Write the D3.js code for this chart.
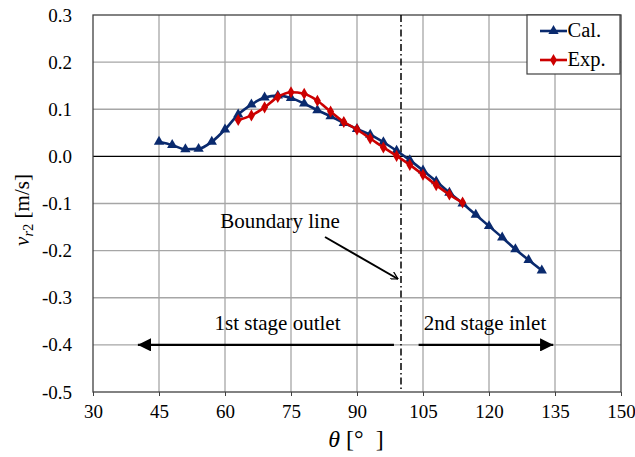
<!DOCTYPE html>
<html><head><meta charset="utf-8">
<script src="https://cdn.jsdelivr.net/npm/d3@7"></script>
<style>body{margin:0;background:#fff}svg{display:block}</style>
</head><body>
<svg id="c" width="635" height="457" font-family="'Liberation Serif', 'Times New Roman', Times, serif"></svg>
<script>
const calTheta = [45,48,51,54,57,60,63,66,69,72,75,78,81,84,87,90,93,96,99,102,105,108,111,114,117,120,123,126,129,132];
const calV = [0.031,0.024,0.015,0.016,0.031,0.057,0.089,0.110,0.125,0.129,0.124,0.112,0.098,0.085,0.071,0.058,0.046,0.030,0.012,-0.008,-0.030,-0.053,-0.077,-0.100,-0.124,-0.148,-0.172,-0.197,-0.220,-0.242];
const expTheta = [63,66,69,72,75,78,81,84,87,90,93,96,99,102,105,108,111,114];
const expV = [0.077,0.087,0.104,0.126,0.136,0.133,0.118,0.095,0.073,0.057,0.038,0.019,0.001,-0.018,-0.039,-0.061,-0.081,-0.098];
const xTicks = [30,45,60,75,90,105,120,135,150];
const yTicks = [0.3,0.2,0.1,0.0,-0.1,-0.2,-0.3,-0.4,-0.5];
const boundaryTheta = 100;
const seriesNames = ["Cal.","Exp."];

const FF = "'Liberation Serif', 'Times New Roman', Times, serif";
const svg = d3.select("#c");
const L=93,R=621,T=15,B=392;
const x = d3.scaleLinear().domain([30,150]).range([L,R]);
const y = d3.scaleLinear().domain([-0.5,0.3]).range([B,T]);
const navy="#0a2a6e", red="#cc0000";

// grid
svg.append("g").selectAll("line").data(xTicks.slice(1,-1)).join("line")
  .attr("x1",d=>x(d)).attr("x2",d=>x(d)).attr("y1",T).attr("y2",B)
  .attr("stroke","#a6a6a6").attr("stroke-width",1.3);
svg.append("g").selectAll("line").data(yTicks.filter(d=>d!==0.3&&d!==-0.5&&Math.abs(d)>1e-9)).join("line")
  .attr("x1",L).attr("x2",R).attr("y1",d=>y(d)).attr("y2",d=>y(d))
  .attr("stroke","#a6a6a6").attr("stroke-width",1.3);
svg.append("line").attr("x1",L).attr("x2",R).attr("y1",y(0)).attr("y2",y(0)).attr("stroke","#000").attr("stroke-width",1.2);

// axes
const xAxis = d3.axisBottom(x).tickValues(xTicks).tickSize(4).tickFormat(d3.format("d"));
const gx = svg.append("g").attr("transform",`translate(0,${B})`).call(xAxis);
gx.attr("font-family",FF);
gx.select(".domain").remove();
gx.selectAll("line").attr("stroke","#404040");
gx.selectAll("text").attr("font-size",19).attr("fill","#000").attr("y",26).attr("dy",0);
const f1 = d3.format(".1f");
const yAxis = d3.axisLeft(y).tickValues(yTicks).tickSize(0).tickPadding(21).tickFormat(d=>f1(d).replace("\u2212","-"));
const gy = svg.append("g").attr("transform",`translate(${L},0)`).call(yAxis);
gy.attr("font-family",FF);
gy.select(".domain").remove();
gy.selectAll("text").attr("font-size",19).attr("fill","#000");
svg.append("rect").attr("x",L).attr("y",T).attr("width",R-L).attr("height",B-T)
  .attr("fill","none").attr("stroke","#404040").attr("stroke-width",1.3);

// boundary line
svg.append("line").attr("x1",x(boundaryTheta)).attr("x2",x(boundaryTheta)).attr("y1",T).attr("y2",B)
  .attr("stroke","#000").attr("stroke-width",1.5).attr("stroke-dasharray","7,3,1.5,3");

// series
const line = d3.line().curve(d3.curveMonotoneX);
const calPts = calTheta.map((t,i)=>[x(t),y(calV[i])]);
const expPts = expTheta.map((t,i)=>[x(t),y(expV[i])]);
svg.append("path").attr("d",line(calPts)).attr("fill","none").attr("stroke",navy).attr("stroke-width",2.6);
const tri = d3.symbol().type(d3.symbolTriangle).size(46);
svg.append("g").selectAll("path").data(calPts).join("path")
  .attr("transform",d=>`translate(${d[0]},${d[1]})`).attr("d",tri).attr("fill",navy);
svg.append("path").attr("d",line(expPts)).attr("fill","none").attr("stroke",red).attr("stroke-width",2.6);
const dia = d3.symbol().type(d3.symbolDiamond).size(42);
svg.append("g").selectAll("path").data(expPts).join("path")
  .attr("transform",d=>`translate(${d[0]},${d[1]})`).attr("d",dia).attr("fill",red);

// annotations
const defs = svg.append("defs");
defs.append("marker").attr("id","ah").attr("viewBox","0 0 10 10").attr("refX",10).attr("refY",5)
  .attr("markerWidth",6).attr("markerHeight",6).attr("orient","auto-start-reverse")
  .append("path").attr("d","M0,0L10,5L0,10z").attr("fill","#000");
defs.append("marker").attr("id","oh").attr("viewBox","0 0 12 12").attr("refX",11).attr("refY",6)
  .attr("markerWidth",8).attr("markerHeight",8).attr("markerUnits","userSpaceOnUse")
  .attr("orient","auto").append("path").attr("d","M0,0L11,6L0,12").attr("fill","none").attr("stroke","#000").attr("stroke-width",1.8);
svg.append("line").attr("x1",x(98.4)).attr("x2",x(40.2)).attr("y1",y(-0.4)).attr("y2",y(-0.4))
  .attr("stroke","#000").attr("stroke-width",2.2).attr("marker-end","url(#ah)");
svg.append("line").attr("x1",x(104)).attr("x2",x(134.6)).attr("y1",y(-0.4)).attr("y2",y(-0.4))
  .attr("stroke","#000").attr("stroke-width",2.2).attr("marker-end","url(#ah)");
svg.append("line").attr("x1",325).attr("y1",237).attr("x2",398).attr("y2",279)
  .attr("stroke","#000").attr("stroke-width",2).attr("marker-end","url(#oh)");
svg.append("text").attr("x",280).attr("y",228).attr("text-anchor","middle").attr("font-size",21).text("Boundary line");
svg.append("text").attr("x",277.5).attr("y",330).attr("text-anchor","middle").attr("font-size",21).text("1st stage outlet");
svg.append("text").attr("x",485).attr("y",330).attr("text-anchor","middle").attr("font-size",21).text("2nd stage inlet");

// legend
const lg = svg.append("g");
lg.append("rect").attr("x",527).attr("y",T).attr("width",R-1-527).attr("height",59).attr("fill","#fff").attr("stroke","#404040").attr("stroke-width",1.2);
const lgItems=[{n:seriesNames[0],c:navy,s:tri,yy:31},{n:seriesNames[1],c:red,s:dia,yy:60}];
lgItems.forEach(it=>{
  lg.append("line").attr("x1",540).attr("x2",567).attr("y1",it.yy).attr("y2",it.yy).attr("stroke",it.c).attr("stroke-width",2.6);
  lg.append("path").attr("transform",`translate(553.5,${it.yy})`).attr("d",it.s).attr("fill",it.c);
  lg.append("text").attr("x",567.5).attr("y",it.yy+6).attr("font-size",20.5).text(it.n);
});

// axis titles
const yt = svg.append("text").attr("transform","translate(29,210) rotate(-90)").attr("text-anchor","middle").attr("font-size",21);
yt.append("tspan").attr("font-style","italic").text("v");
yt.append("tspan").attr("font-style","italic").attr("font-size",14.5).attr("dy",4).text("r");
yt.append("tspan").attr("font-size",14.5).text("2");
yt.append("tspan").attr("dy",-4).text(" [m/s]");
const xt = svg.append("text").attr("x",356).attr("y",447).attr("text-anchor","middle").attr("font-size",24);
xt.append("tspan").attr("font-style","italic").text("θ");
xt.append("tspan").text(" [°\u00a0\u00a0]");
</script>
</body></html>
